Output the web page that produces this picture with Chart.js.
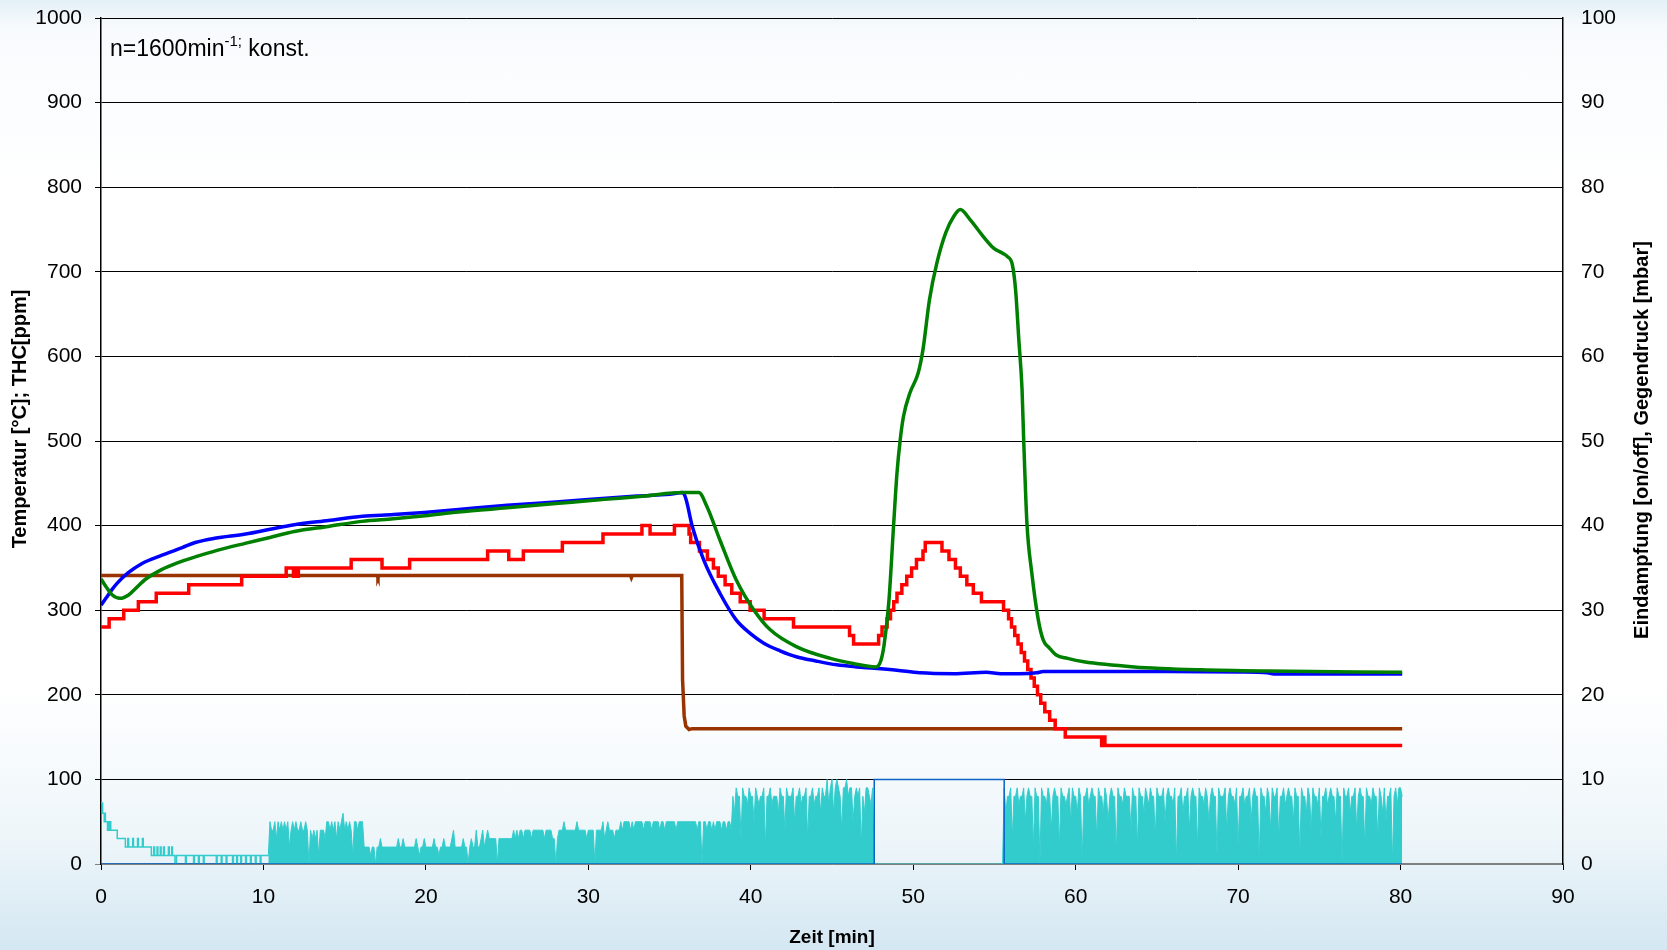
<!DOCTYPE html>
<html>
<head>
<meta charset="utf-8">
<script src="https://cdn.jsdelivr.net/npm/chart.js@4.4.1/dist/chart.umd.min.js"></script>
<style>
    html, body { margin: 0; padding: 0; }
    body {
        width: 1667px; height: 950px; overflow: hidden;
        background: linear-gradient(180deg, #e4f0f7 0%, #f8fbfd 3%, #ffffff 20%, #ffffff 72%, #eef6fa 88%, #d4e7f2 100%);
    }
    #chartBox { position: absolute; left: 0; top: 0; width: 1667px; height: 950px; }
</style>
</head>
<body>
<div id="chartBox"><canvas id="abgasChart" width="1667" height="950"></canvas></div>
<script>
    // Temperatur / THC Verlauf (linke Achse)
    const blueT = [0, 0.3, 0.66, 1.0, 1.66, 2.5, 3.76, 5.0, 5.8, 7.0, 8.9, 10.5, 11.9, 14, 16.1, 18, 19.9, 22, 25, 28, 30, 33, 35.0, 35.8, 36.0, 36.4, 37.1, 38.1, 39.1, 40.0, 40.8, 41.8, 42.8, 44.0, 45.3, 46.5, 47.6, 49.0, 50.4, 52.5, 54.5, 55.4, 56.5, 57.6, 58.0, 60, 65, 70, 71.8, 72.2, 75, 80.1];
    const blueV = [306, 314, 324, 332, 344, 355, 365, 374, 380, 385, 390, 396, 401, 406, 411, 413, 415.5, 419, 424, 428, 431, 435, 437, 439, 432, 399, 359.5, 320, 288.6, 272, 261, 252, 245, 240, 235.4, 233, 231.4, 229, 226, 225, 226.7, 225, 225, 226, 227.4, 227.5, 227.5, 227, 226, 224.7, 224.7, 224.7];

    const greenT = [0, 0.3, 0.7, 1.17, 1.7, 2.2, 2.7, 3.7, 4.7, 5.8, 7.2, 8.87, 10.4, 11.9, 14, 16.05, 18, 19.95, 22, 25, 28, 31, 33.5, 35.8, 36.8, 37.3, 38.1, 39.1, 40.2, 41.2, 42.8, 44.9, 46.3, 47.7, 48.0, 48.2, 48.5, 48.8, 49.0, 49.2, 49.4, 49.8, 50.3, 50.6, 51.0, 51.45, 52.0, 52.5, 52.9, 53.5, 54.3, 54.95, 55.5, 55.8, 56.1, 56.3, 56.5, 56.7, 56.8, 57.0, 57.3, 57.7, 58.0, 58.4, 58.8, 59.5, 60.5, 63.6, 67.7, 71.8, 80.1];
    const greenV = [337, 328, 318, 314, 318, 327, 336, 347.7, 356, 363, 371, 379, 386, 393, 399, 405, 408, 411.6, 416, 421, 426, 431, 435, 439, 439, 422.6, 383, 336, 300, 276.8, 257, 243, 237, 233, 240, 258, 310, 403, 462, 501.5, 529, 557, 580, 608, 667, 710, 746, 765.6, 773.5, 761.7, 742, 728, 722, 718, 708.5, 679, 620, 560.6, 501.5, 403, 344, 288.6, 265, 255, 247, 243, 239, 233, 229.5, 228, 226.7];

    // THC in 10er Stufen: Startzeit der Stufe, Wert
    const redT = [0, 0.5, 1.4, 2.3, 3.4, 5.4, 8.66, 11.4, 11.85, 11.95, 12.05, 12.15, 15.4, 17.3, 19.0, 23.8, 25.1, 26.0, 28.4, 30.9, 33.3, 33.8, 35.3, 36.2, 36.3, 36.84, 37.33, 37.7, 38.0, 38.42, 38.83, 39.35, 39.96, 40.82, 42.63, 46.08, 46.33, 47.87, 48.08, 48.39, 48.6, 48.8, 49.0, 49.3, 49.6, 49.9, 50.2, 50.6, 50.74, 51.77, 52.2, 52.6, 52.9, 53.3, 53.7, 54.2, 55.56, 55.87, 56.05, 56.25, 56.45, 56.65, 56.85, 57.05, 57.25, 57.45, 57.65, 57.85, 58.1, 58.4, 58.74, 59.36, 61.6, 61.7, 61.8, 61.9, 80.1];
    const redV = [280, 290, 300, 310, 320, 330, 340, 350, 340, 350, 340, 350, 360, 350, 360, 370, 360, 370, 380, 390, 400, 390, 400, 390, 380, 370, 360, 350, 340, 330, 320, 310, 300, 290, 280, 270, 260, 270, 280, 290, 300, 310, 320, 330, 340, 350, 360, 370, 380, 370, 360, 350, 340, 330, 320, 310, 300, 290, 280, 270, 260, 250, 240, 230, 220, 210, 200, 190, 180, 170, 160, 150, 140, 150, 140, 140, 140];

    // Gegendruck [mbar] (rechte Achse)
    const brownT = [0, 17.0, 17.05, 17.1, 32.6, 32.65, 32.7, 35.75, 35.8, 35.9, 36.0, 36.2, 36.4, 80.1];
    const brownV = [34.1, 34.1, 33.85, 34.1, 34.1, 33.85, 34.1, 34.1, 21.8, 17.5, 16.3, 15.9, 16.0, 16.0];

    // Eindampfung on/off
    const onOffT = [0, 47.6, 47.6, 55.6, 55.6, 80.1];
    const onOffV = [0, 0, 10, 10, 0, 0];

    // Signal am Anfang (Stufen)
    const cyanStartT = [0, 0.1, 0.2, 0.22, 0.27, 0.4, 0.45, 0.5, 0.55, 0.6, 1.0, 1.5, 1.65, 1.7, 1.95, 2.0, 2.25, 2.3, 2.55, 2.6, 3.1, 3.25, 3.3, 3.45, 3.5, 3.65, 3.7, 3.85, 3.9, 4.15, 4.2, 4.35, 4.4, 4.55, 4.65, 5.2, 5.25, 5.7, 5.75, 6.0, 6.05, 6.3, 6.35, 7.1, 7.15, 7.4, 7.45, 7.7, 7.75, 8.1, 8.15, 8.35, 8.4, 8.6, 8.65, 8.9, 8.95, 9.2, 9.25, 9.5, 9.55, 9.8, 9.85, 10.3];
    const cyanStartV = [7.2, 6, 5, 6, 5, 4, 5, 4, 5, 4, 3, 2, 3, 2, 3, 2, 3, 2, 3, 2, 1, 2, 1, 2, 1, 2, 1, 2, 1, 2, 1, 2, 1, 0, 1, 0, 1, 0, 1, 0, 1, 0, 1, 0, 1, 0, 1, 0, 1, 0, 1, 0, 1, 0, 1, 0, 1, 0, 1, 0, 1, 0, 1, 1];

    // Signal ab 10 min, je Zeile eine Minute (0.1 min Raster)
    const cyanFirstMin = 10;
    const cyanRows = [
        [null, null, null, 1, 5, 4, 4, 5, 3, 5], // 10
        [4, 5, 4, 5, 4, 5, 2, 4, 5, 4],
        [5, 4, 4, 5, 4, 4, 5, 4, 0, 4],
        [3, 4, 3, 4, 1, 4, 4, 4, 3, 5],
        [5, 4, 5, 4, 5, 3, 5, 4, 5, 6],
        [4, 5, 4, 5, 4, 1, 5, 5, 4, 5], // 15
        [5, 5, 2, 2, 2, 2, 1, 2, 2, 0],
        [2, 2, 3, 2, 2, 2, 2, 2, 2, 2],
        [2, 2, 2, 3, 2, 2, 3, 2, 2, 2],
        [2, 2, 2, 2, 3, 2, 1, 2, 2, 3],
        [2, 2, 2, 2, 2, 3, 2, 2, 1, 2], // 20
        [2, 3, 2, 2, 2, 2, 3, 4, 2, 2],
        [2, 2, 2, 3, 2, 2, 0, 2, 3, 2],
        [2, 4, 2, 2, 3, 4, 2, 3, 4, 3],
        [3, 3, 3, 3, 0, 3, 3, 3, 3, 3],
        [3, 3, 3, 3, 4, 3, 4, 3, 4, 4], // 25
        [3, 4, 4, 4, 4, 3, 4, 4, 4, 4],
        [4, 4, 4, 3, 4, 4, 4, 4, 3, 3],
        [0, 3, 4, 4, 4, 5, 4, 4, 4, 4],
        [4, 4, 4, 5, 4, 4, 4, 4, 4, 3],
        [4, 4, 4, 4, 0, 4, 4, 4, 4, 5], // 30
        [3, 4, 5, 4, 4, 4, 3, 4, 4, 4],
        [5, 4, 5, 5, 5, 5, 4, 5, 4, 5],
        [5, 5, 5, 5, 4, 5, 5, 5, 5, 4],
        [5, 5, 5, 5, 4, 5, 5, 4, 5, 5],
        [5, 5, 5, 5, 4, 5, 5, 5, 5, 5], // 35
        [5, 5, 5, 5, 5, 5, 5, 4, 5, 5],
        [0, 5, 5, 4, 5, 5, 4, 5, 4, 5],
        [5, 5, 4, 5, 5, 4, 5, 5, 4, 8],
        [6, 9, 8, 8, 3, 9, 8, 8, 7, 9],
        [8, 8, 5, 9, 8, 7, 8, 8, 9, 2], // 40
        [8, 8, 9, 7, 8, 8, 8, 6, 9, 8],
        [8, 4, 9, 8, 8, 8, 9, 5, 8, 8],
        [9, 7, 8, 8, 9, 3, 8, 8, 9, 7],
        [8, 8, 9, 6, 9, 8, 8, 10, 7, 9],
        [10, 6, 9, 10, 9, 8, 4, 9, 9, 10], // 45
        [8, 9, 9, 5, 8, 9, 8, 9, 2, 8],
        [6, 9, 9, 8, 7, 9, 0, 0, 0, 0],
        [0, 0, 0, 0, 0, 0, 0, 0, 0, 0],
        [0, 0, 0, 0, 0, 0, 0, 0, 0, 0],
        [0, 0, 0, 0, 0, 0, 0, 0, 0, 0], // 50
        [0, 0, 0, 0, 0, 0, 0, 0, 0, 0],
        [0, 0, 0, 0, 0, 0, 0, 0, 0, 0],
        [0, 0, 0, 0, 0, 0, 0, 0, 0, 0],
        [0, 0, 0, 0, 0, 0, 0, 0, 0, 0],
        [0, 0, 0, 0, 0, 0, 9, 6, 8, 8], // 55
        [9, 3, 8, 8, 9, 7, 8, 8, 9, 5],
        [8, 9, 8, 8, 2, 9, 8, 8, 0, 9],
        [8, 8, 7, 9, 8, 4, 8, 9, 8, 8],
        [2, 9, 8, 8, 7, 8, 9, 5, 9, 8],
        [8, 6, 9, 8, 0, 8, 8, 9, 7, 8], // 60
        [9, 8, 8, 3, 9, 8, 8, 6, 9, 8],
        [5, 8, 9, 8, 8, 1, 9, 8, 8, 7],
        [9, 8, 8, 8, 4, 9, 8, 8, 2, 9],
        [8, 8, 6, 9, 8, 7, 9, 8, 8, 3],
        [9, 8, 8, 8, 9, 5, 8, 9, 8, 8], // 65
        [7, 9, 0, 8, 8, 9, 6, 8, 8, 9],
        [4, 8, 9, 8, 8, 2, 9, 8, 8, 7],
        [9, 8, 5, 8, 9, 8, 8, 1, 9, 8],
        [8, 8, 9, 4, 8, 9, 8, 8, 7, 9],
        [2, 8, 8, 9, 7, 8, 8, 9, 5, 8], // 70
        [9, 8, 8, 0, 9, 8, 8, 6, 9, 8],
        [4, 9, 8, 8, 9, 3, 8, 8, 9, 7],
        [8, 9, 8, 8, 5, 9, 8, 8, 1, 9],
        [8, 8, 6, 9, 8, 4, 9, 8, 8, 7],
        [9, 3, 8, 8, 9, 7, 8, 9, 8, 8], // 75
        [5, 9, 8, 8, 0, 9, 8, 8, 9, 6],
        [8, 8, 9, 4, 8, 9, 8, 8, 2, 9],
        [8, 8, 7, 9, 8, 8, 3, 9, 8, 6],
        [9, 5, 8, 8, 9, 0, 8, 9, 7, 9],
        [9, 8] // 80
    ];

    const xTicks = [0, 10, 20, 30, 40, 50, 60, 70, 80, 90];
    const leftTitle = 'Temperatur [°C]; THC[ppm]';
    const rightTitle = 'Eindampfung [on/off], Gegendruck [mbar]';
    const xTitle = 'Zeit [min]';
    const noteMain = 'n=1600min';
    const noteSup = '-1;';
    const noteEnd = ' konst.';

    function toPoints(ts, vs) {
        return ts.map(function (t, i) { return { x: t, y: vs[i] }; });
    }

    function rowsToPoints(rows, firstMin) {
        var list = [];
        rows.forEach(function (row, r) {
            row.forEach(function (v, k) {
                list.push({ x: Math.round((firstMin + r) * 10 + k) / 10, y: v });
            });
        });
        return list;
    }

    const FONT = '"Liberation Sans", Arial, sans-serif';

    const textPlugin = {
        id: 'textPlugin',
        afterDraw: function (chart) {
            const ctx = chart.ctx;
            ctx.save();
            ctx.fillStyle = '#000';

            // Achsentitel links und rechts, beide von unten nach oben
            ctx.font = 'bold 20px ' + FONT;
            ctx.textAlign = 'center';
            ctx.textBaseline = 'middle';
            ctx.save();
            ctx.translate(20, 419);
            ctx.rotate(-Math.PI / 2);
            ctx.fillText(leftTitle, 0, 0);
            ctx.restore();
            ctx.save();
            ctx.translate(1642, 440);
            ctx.rotate(-Math.PI / 2);
            ctx.fillText(rightTitle, 0, 0);
            ctx.restore();

            // Hinweis oben links
            ctx.textAlign = 'left';
            ctx.textBaseline = 'alphabetic';
            var x = 110, y = 56;
            ctx.font = '23px ' + FONT;
            ctx.fillText(noteMain, x, y);
            x += ctx.measureText(noteMain).width;
            ctx.font = '15px ' + FONT;
            ctx.fillText(noteSup, x, y - 10);
            x += ctx.measureText(noteSup).width;
            ctx.font = '23px ' + FONT;
            ctx.fillText(noteEnd, x, y);
            ctx.restore();
        }
    };

    const lineBase = { pointRadius: 0, fill: false, tension: 0 };
    const smooth = { cubicInterpolationMode: 'monotone' };
    const plainNumber = function (v) { return String(v); };

    // feste Achsenbreiten, damit der Plotbereich wie im Original liegt
    function fitVertical(width) {
        return function (s) {
            s.width = width;
            s.paddingTop = 0;
            s.paddingBottom = 0;
        };
    }

    const ctx = document.getElementById('abgasChart').getContext('2d');
    const chart = new Chart(ctx, {
        type: 'line',
        data: {
            datasets: [
                Object.assign({}, lineBase, smooth, { data: toPoints(greenT, greenV), borderColor: '#008000', borderWidth: 3.5, yAxisID: 'y' }),
                Object.assign({}, lineBase, smooth, { data: toPoints(blueT, blueV), borderColor: '#0000ff', borderWidth: 3.5, yAxisID: 'y' }),
                Object.assign({}, lineBase, { data: toPoints(redT, redV), borderColor: '#ff0000', borderWidth: 3.5, stepped: 'before', yAxisID: 'y' }),
                Object.assign({}, lineBase, { data: toPoints(brownT, brownV), borderColor: '#993300', borderWidth: 3.5, yAxisID: 'y1' }),
                Object.assign({}, lineBase, { data: toPoints(onOffT, onOffV), borderColor: '#0a64c8', borderWidth: 1.5, yAxisID: 'y1' }),
                Object.assign({}, lineBase, { data: toPoints(cyanStartT, cyanStartV), borderColor: '#33cccc', borderWidth: 1.5, stepped: 'before', yAxisID: 'y1' }),
                Object.assign({}, lineBase, { data: rowsToPoints(cyanRows, cyanFirstMin), borderColor: '#33cccc', backgroundColor: '#33cccc', borderWidth: 1, fill: 'origin', spanGaps: false, yAxisID: 'y1' })
            ]
        },
        options: {
            responsive: false,
            animation: false,
            events: [],
            layout: { padding: { top: 18, left: 0, right: 0, bottom: 0 } },
            plugins: {
                legend: { display: false },
                tooltip: { enabled: false },
                title: { display: false }
            },
            scales: {
                x: {
                    type: 'linear',
                    min: 0,
                    max: 90,
                    afterBuildTicks: function (s) { s.ticks = xTicks.map(function (v) { return { value: v }; }); },
                    afterFit: function (s) { s.height = 86; },
                    grid: { drawOnChartArea: false, drawTicks: true, tickLength: 6, color: '#000' },
                    border: { display: true, color: '#808080', width: 1.5 },
                    ticks: { color: '#000', padding: 15, maxRotation: 0, callback: plainNumber, font: { family: FONT, size: 21 } },
                    title: { display: true, text: xTitle, color: '#000', padding: { top: 0, bottom: 1 }, font: { family: FONT, size: 19, weight: 'bold' } }
                },
                y: {
                    position: 'left',
                    min: 0,
                    max: 1000,
                    ticks: { stepSize: 100, color: '#000', padding: 13, callback: plainNumber, font: { family: FONT, size: 21 } },
                    afterFit: fitVertical(101),
                    grid: {
                        drawTicks: true, tickLength: 6, lineWidth: 1,
                        color: function (c) { return c.tick && c.tick.value === 0 ? '#808080' : '#000'; }
                    },
                    border: { display: true, color: '#000', width: 1.5 }
                },
                y1: {
                    position: 'right',
                    min: 0,
                    max: 100,
                    ticks: { stepSize: 10, color: '#000', padding: 18, callback: plainNumber, font: { family: FONT, size: 21 } },
                    afterFit: fitVertical(104),
                    grid: { display: false, drawTicks: false, drawOnChartArea: false },
                    border: { display: true, color: '#000', width: 1.5 }
                }
            }
        },
        plugins: [textPlugin]
    });
</script>
</body>
</html>
